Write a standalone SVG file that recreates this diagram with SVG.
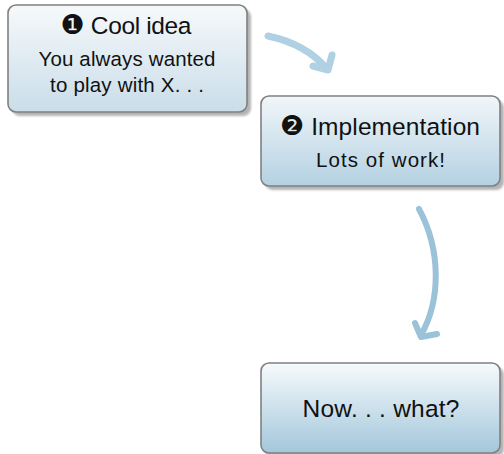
<svg xmlns="http://www.w3.org/2000/svg" width="504" height="454" viewBox="0 0 504 454">
<defs>
<linearGradient id="g1" x1="0" y1="0" x2="0" y2="1"><stop offset="0" stop-color="#f6f9fb"/><stop offset="1" stop-color="#cadde9"/></linearGradient>
<linearGradient id="g2" x1="0" y1="0" x2="0" y2="1"><stop offset="0" stop-color="#f1f6f9"/><stop offset="1" stop-color="#b4d1e2"/></linearGradient>
<linearGradient id="g3" x1="0" y1="0" x2="0" y2="1"><stop offset="0" stop-color="#f6fafc"/><stop offset="1" stop-color="#a3c7db"/></linearGradient>
<filter id="blur" x="-10%" y="-10%" width="120%" height="120%"><feGaussianBlur stdDeviation="0.8"/></filter>
</defs>
<style>
.shadow{fill:#b4b4b4;filter:url(#blur)}
.box{stroke:#808080;stroke-width:1.6}
.t{font-family:"Liberation Sans","DejaVu Sans",sans-serif;fill:#111;text-anchor:middle}
.title{font-size:24.5px}
.sub{font-size:20.5px}
.dg{font-family:"DejaVu Sans",sans-serif;font-size:27px}
.conn{fill:none;stroke-linecap:round;stroke-linejoin:round}
</style>
<g id="connectors">
<path class="conn" d="M268,36 Q306,44 327,69" stroke="#b0d1e4" stroke-width="7"/>
<path class="conn" d="M313,66 L328,70 L332,55" stroke="#b0d1e4" stroke-width="7"/>
<path class="conn" d="M419,209 C441,250 441,300 421,335" stroke="#9ac2d9" stroke-width="6"/>
<path class="conn" d="M415,323 L421,337 L437,334" stroke="#9ac2d9" stroke-width="6"/>
</g>
<g id="node1">
<rect class="shadow" x="12" y="9" width="239" height="107" rx="8"/>
<rect class="box" x="8" y="5" width="239" height="107" rx="8" fill="url(#g1)"/>
<text class="t title" x="126" y="34" textLength="131" lengthAdjust="spacing"><tspan class="dg">❶</tspan> Cool idea</text>
<text class="t sub" x="127" y="66" textLength="177" lengthAdjust="spacing">You always wanted</text>
<text class="t sub" x="127" y="92" textLength="154" lengthAdjust="spacing">to play with X. . .</text>
</g>
<g id="node2">
<rect class="shadow" x="265" y="100" width="239" height="90" rx="8"/>
<rect class="box" x="261" y="96" width="239" height="90" rx="8" fill="url(#g2)"/>
<text class="t title" x="380" y="135" textLength="200" lengthAdjust="spacing"><tspan class="dg">❷</tspan> Implementation</text>
<text class="t sub" x="380.5" y="166.5" textLength="129" lengthAdjust="spacing">Lots of work!</text>
</g>
<g id="node3">
<rect class="shadow" x="265" y="367" width="239" height="90" rx="8"/>
<rect class="box" x="261" y="363" width="239" height="90" rx="8" fill="url(#g3)"/>
<text class="t title" x="381" y="417" textLength="157" lengthAdjust="spacing">Now. . . what?</text>
</g>
</svg>
